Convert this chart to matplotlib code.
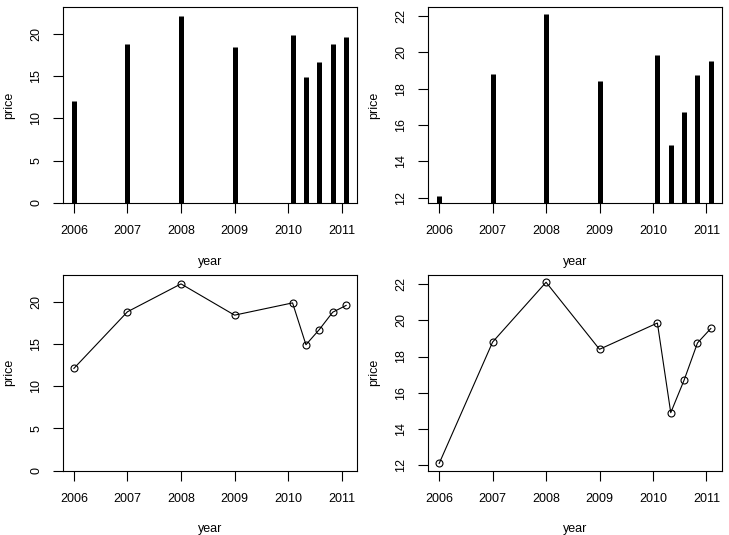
import matplotlib
matplotlib.use("Agg")
import matplotlib.pyplot as plt
from matplotlib.ticker import FixedLocator

year = [2006.0, 2007.0, 2008.0, 2009.0, 2010.083, 2010.333, 2010.583, 2010.833, 2011.083]
price = [12.1, 18.8, 22.1, 18.4, 19.85, 14.9, 16.7, 18.75, 19.55]
xticks = [2006, 2007, 2008, 2009, 2010, 2011]
yticks_full = [0, 5, 10, 15, 20]
yticks_zoom = [12, 14, 16, 18, 20, 22]

plt.rcParams['font.family'] = ['Liberation Sans', 'DejaVu Sans']
plt.rcParams['font.size'] = 9

fig = plt.figure(figsize=(7.29, 5.35), dpi=100)

W, H = 729.0, 535.0
boxes = [
    (63, 7, 357, 203),
    (428.3, 7, 721.7, 203),
    (63, 275, 357, 470.7),
    (428.3, 275, 721.7, 470.7),
]

xmin, xmax = min(year), max(year)
xr = xmax - xmin
xlim = (xmin - 0.04 * xr, xmax + 0.04 * xr)
pmin, pmax = min(price), max(price)
pr = pmax - pmin
ylim_zoom = (pmin - 0.04 * pr, pmax + 0.04 * pr)
ylim_full = (0, 23.15)

axes = []
for (l, t, r, b) in boxes:
    ax = fig.add_axes([l / W, 1 - b / H, (r - l) / W, (b - t) / H])
    axes.append(ax)

def style(ax, yticks, ylim):
    ax.set_xlim(*xlim)
    ax.set_ylim(*ylim)
    ax.xaxis.set_major_locator(FixedLocator(xticks))
    ax.yaxis.set_major_locator(FixedLocator(yticks))
    ax.set_xticklabels([str(v) for v in xticks])
    ax.set_yticklabels([str(v) for v in yticks], rotation=90, va='center')
    ax.tick_params(direction='out', length=7, width=0.8, color='black', labelsize=9)
    ax.tick_params(axis='x', pad=9)
    ax.tick_params(axis='y', pad=8)
    for s in ax.spines.values():
        s.set_linewidth(0.8)
        s.set_color('black')
    ax.set_xlabel('year', fontsize=9)
    ax.set_ylabel('price', fontsize=9)
    ax.xaxis.label.set_va('center')
    ax.yaxis.label.set_va('center')
    ax.xaxis.set_label_coords(0.5, -(261.5 - 203) / 196.0)
    ax.yaxis.set_label_coords(-(63 - 9) / 294.0, 0.5)

# top-left: histogram-like lines from 0
ax = axes[0]
ax.vlines(year, 0, price, colors='black', linewidth=3.6, capstyle='butt')
style(ax, yticks_full, ylim_full)

# top-right: same but zoomed y range
ax = axes[1]
ax.vlines(year, 0, price, colors='black', linewidth=3.6, capstyle='butt')
style(ax, yticks_zoom, ylim_zoom)

# bottom-left: line with open circles
ax = axes[2]
ax.plot(year, price, color='black', linewidth=0.8, marker='o', markersize=5,
        markerfacecolor='none', markeredgecolor='black', markeredgewidth=0.8)
style(ax, yticks_full, ylim_full)

# bottom-right
ax = axes[3]
ax.plot(year, price, color='black', linewidth=0.8, marker='o', markersize=5,
        markerfacecolor='none', markeredgecolor='black', markeredgewidth=0.8)
style(ax, yticks_zoom, ylim_zoom)

for ax in axes:
    ax.yaxis.label.set_position(ax.yaxis.label.get_position())

fig.savefig('out.png', dpi=100)
